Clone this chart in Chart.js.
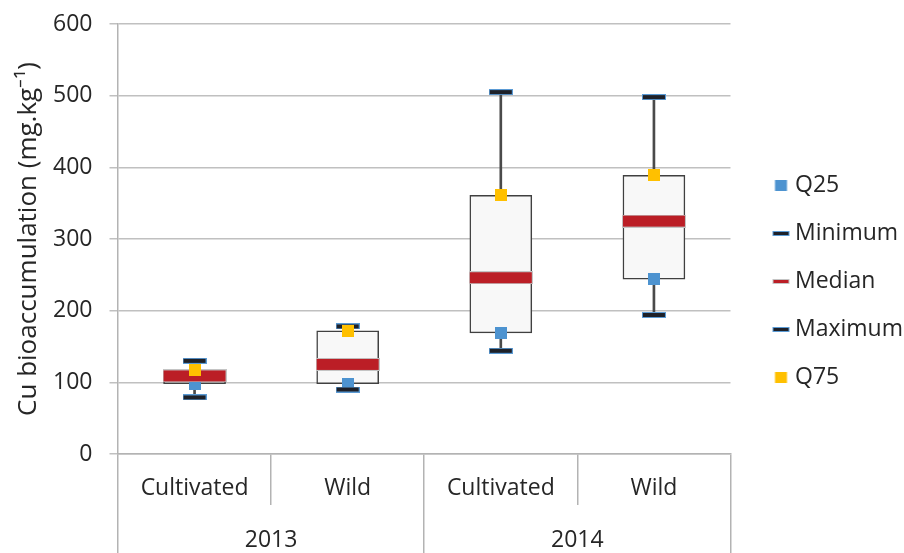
<!DOCTYPE html>
<html>
<head>
<meta charset="utf-8">
<title>Cu bioaccumulation</title>
<script src="https://cdn.jsdelivr.net/npm/chart.js@4.4.1/dist/chart.umd.min.js"></script>
<style>
  html, body { margin: 0; padding: 0; background: #fff; }
</style>
</head>
<body>
<canvas id="chart" width="904" height="553"></canvas>
<script>
// groups on the x axis, years below them
const groups = ['Cultivated', 'Wild', 'Cultivated', 'Wild'];
const years = ['2013', '2014'];

// box plot values (mg.kg-1), one per group
const minimum = [79, 90, 144, 194];
const q25 = [98, 98, 169, 244];
const median = [109, 125, 246, 325];
const q75 = [117, 172, 361, 389];
const maximum = [130, 178, 505, 498];

// y axis range
const yMin = 0;
const yMax = 600;
const yStep = 100;

const textColor = '#262626';
const lineColor = '#b3b3b3';

Chart.defaults.font.family = '"Open Sans", sans-serif';

// little canvas used as a point style
function mark(w, h, fill, edge, canvasW, centerX) {
  const c = document.createElement('canvas');
  c.width = canvasW || w;
  c.height = h;
  const g = c.getContext('2d');
  const left = (centerX === undefined ? c.width / 2 : centerX) - w / 2;
  if (edge) {
    g.fillStyle = edge;
    g.fillRect(left, 0, w, h);
    g.fillStyle = fill;
    g.fillRect(left + 1, 1, w - 2, h - 2);
  } else {
    g.fillStyle = fill;
    g.fillRect(left, 0, w, h);
  }
  return c;
}

// legend icons sit near the right of a wider canvas so the text gap stays small
const keyW = 42;
const keyC = 32.5;

const blue = '#4d93d0';
const yellow = '#ffc000';
const red = '#bb1e26';
const dark = '#1e2129';
const edgeBlue = '#5b9bd5';

function points(label, values, icon, key, order) {
  return {
    type: 'line',
    label: label,
    data: values,
    showLine: false,
    pointStyle: icon,
    legendIcon: key,
    order: order,
    xAxisID: 'x'
  };
}

const datasets = [
  points('Q25', q25, mark(12, 12, blue), mark(12, 11, blue, null, keyW, keyC), 5),
  points('Minimum', minimum, mark(24, 6, dark, edgeBlue), mark(17, 5, dark, edgeBlue, keyW, keyC), 4),
  points('Median', median, mark(64, 13, red, '#c4c4c4'), mark(17, 5, red, '#c4c4c4', keyW, keyC), 3),
  points('Maximum', maximum, mark(24, 6, dark, edgeBlue), mark(17, 5, dark, edgeBlue, keyW, keyC), 2),
  points('Q75', q75, mark(12, 12, yellow), mark(12, 11, yellow, null, keyW, keyC), 1),
  {
    type: 'bar',
    label: 'box',
    data: groups.map((g, i) => [q25[i], q75[i]]),
    backgroundColor: '#f8f8f8',
    borderColor: '#404040',
    borderWidth: 1.5,
    borderSkipped: false,
    barThickness: 62,
    grouped: false,
    order: 6,
    xAxisID: 'x'
  },
  {
    type: 'bar',
    label: 'whisker',
    data: groups.map((g, i) => [minimum[i], maximum[i]]),
    backgroundColor: '#4a4a4a',
    barThickness: 2,
    grouped: false,
    order: 7,
    xAxisID: 'x'
  }
];

new Chart(document.getElementById('chart'), {
  type: 'bar',
  data: { labels: groups, datasets: datasets },
  options: {
    responsive: false,
    animation: false,
    events: [],
    layout: { padding: { left: 0, top: 10, right: -9, bottom: 0 } },
    plugins: {
      tooltip: { enabled: false },
      legend: {
        position: 'right',
        labels: {
          usePointStyle: true,
          pointStyleWidth: 28,
          padding: 25,
          color: textColor,
          font: { size: 23 },
          sort: (a, b) => a.datasetIndex - b.datasetIndex,
          generateLabels(chart) {
            const items = Chart.defaults.plugins.legend.labels.generateLabels(chart);
            return items
              .filter((it) => chart.data.datasets[it.datasetIndex].legendIcon)
              .map((it) => Object.assign(it, { pointStyle: chart.data.datasets[it.datasetIndex].legendIcon }));
          }
        }
      }
    },
    scales: {
      x: {
        type: 'category',
        offset: true,
        grid: { offset: true, drawOnChartArea: false, tickLength: 51, color: lineColor, lineWidth: 1.5 },
        border: { color: lineColor, width: 1.5 },
        ticks: { padding: -30, color: textColor, font: { size: 23 }, maxRotation: 0, autoSkip: false },
        afterFit: (scale) => { scale.height = 51; }
      },
      x2: {
        type: 'category',
        labels: years,
        position: 'bottom',
        offset: true,
        weight: 2,
        grid: { offset: true, drawOnChartArea: false, tickLength: 48, color: lineColor, lineWidth: 1.5 },
        border: { display: false },
        ticks: { padding: -26, color: textColor, font: { size: 23 }, maxRotation: 0, autoSkip: false },
        afterFit: (scale) => { scale.height = 48; }
      },
      y: {
        min: yMin,
        max: yMax,
        ticks: { stepSize: yStep, padding: 17, color: textColor, font: { size: 23 } },
        grid: { color: '#c0c0c0', lineWidth: 1.5, tickLength: 8.5 },
        border: { color: lineColor, width: 1.5 },
        title: {
          display: true,
          text: 'Cu bioaccumulation (mg.kg⁻¹)',
          color: textColor,
          font: { size: 26 },
          padding: { top: 13, bottom: 9 }
        },
        afterFit: (scale) => {
          scale.width = 118;
          scale.paddingTop = 24;
        }
      }
    }
  }
});
</script>
</body>
</html>
